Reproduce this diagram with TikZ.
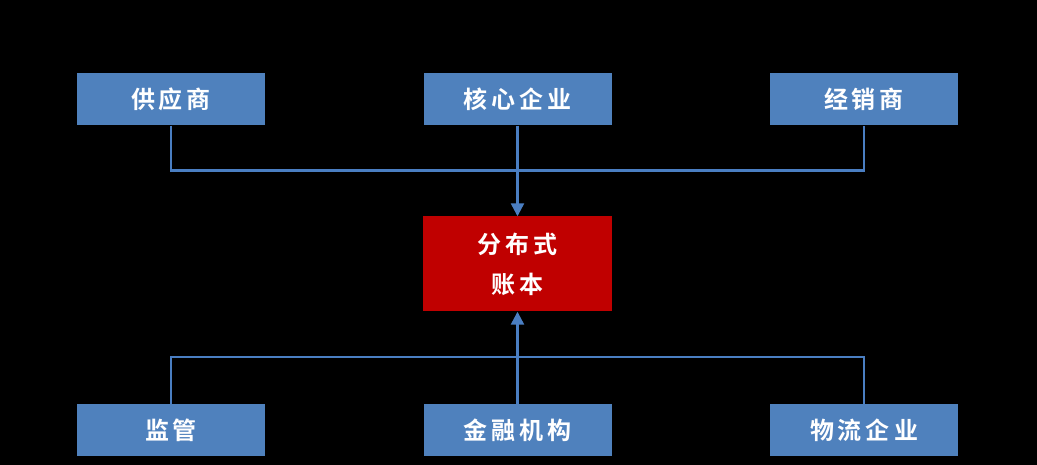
\documentclass[tikz,border=0pt]{standalone}
\usepackage{fontspec}
\newfontfamily\cjk{Noto Sans CJK SC Bold}
\usetikzlibrary{arrows.meta}
\definecolor{boxblue}{HTML}{4F81BD}
\definecolor{linkblue}{HTML}{4A7EC2}
\definecolor{ledgerred}{HTML}{C00000}
\tikzset{
  party/.style={fill=boxblue, draw=none, minimum width=188pt, minimum height=52pt,
    inner sep=0pt, text=white, font=\cjk\fontsize{24}{28}\selectfont},
  ledger/.style={fill=ledgerred, draw=none, minimum width=189pt, minimum height=95pt,
    inner sep=0pt, text=white, align=center, font=\cjk\fontsize{24}{40}\selectfont},
  link/.style={draw=linkblue, line width=2.4pt},
  arrowlink/.style={link, -{Triangle[length=13pt,width=13pt]}},
}
\newcommand{\chsp}{\hspace{4pt}}
\begin{document}
\begin{tikzpicture}[x=1pt,y=-1pt]
\fill[black] (0,0) rectangle (1037,465);
\useasboundingbox (0,0) rectangle (1037,465);
\node[party] (sup) at (171,99.5) {供\chsp 应\chsp 商};
\node[party] (core) at (517.5,99.5) {核\chsp 心\chsp 企\chsp 业};
\node[party] (dist) at (864,99.5) {经\chsp 销\chsp 商};
\node[ledger] (led) at (517.5,264) {分\chsp 布\chsp 式\\账\chsp 本};
\node[party] (reg) at (171,430) {监\chsp 管};
\node[party] (fin) at (517.5,430) {金\chsp 融\chsp 机\chsp 构};
\node[party] (log) at (864,430) {物\chsp 流\chsp 企\chsp 业};
\coordinate (topbus) at (517.5,170.5);
\coordinate (botbus) at (517.5,357);
\draw[link] (sup.south) |- (topbus) -| (dist.south);
\draw[arrowlink] (core.south) -- (led.north);
\draw[link] (reg.north) |- (botbus) -| (log.north);
\draw[arrowlink] (fin.north) -- (led.south);
\end{tikzpicture}
\end{document}
